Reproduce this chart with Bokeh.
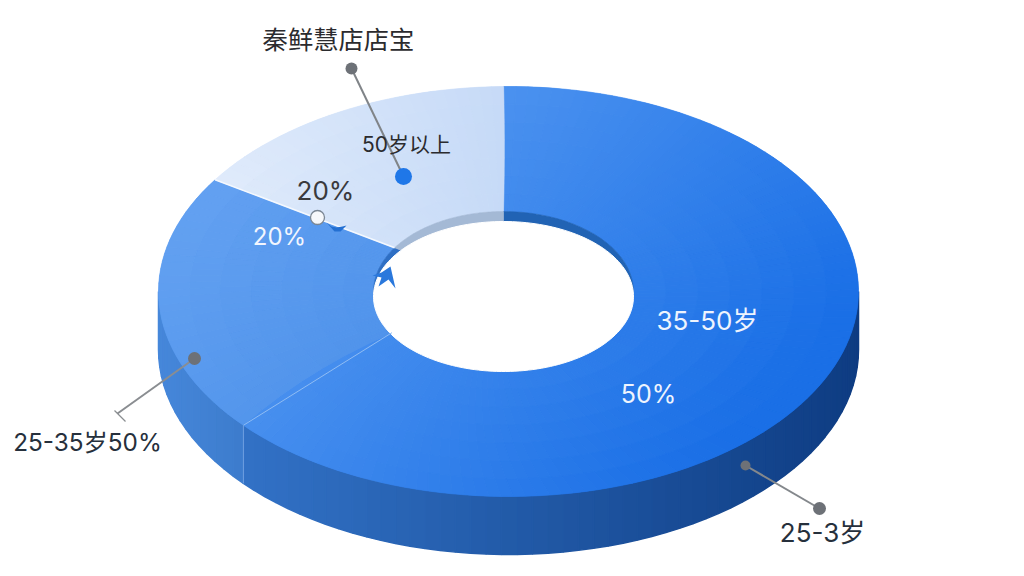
import numpy as np
from bokeh.plotting import figure
from bokeh.embed import file_html
from bokeh.resources import INLINE
from bokeh.core.properties import value

# --- data
slice_names = ["35-50岁", "25-35岁", "50岁以上"]
slice_shares = [63.9, 20.5, 15.6]          # drawn share along the outer rim (%)
inner_shares = [66.4, 17.8, 15.8]          # drawn share along the inner rim (%)
top_from = ["#4a91ef", "#66a3f2", "#e0ebfb"]
top_to = ["#1a6fe6", "#4a8fe9", "#c6daf7"]
side_from = ["#3272c6", "#4687da", "#4687da"]
side_to = ["#0e3c82", "#3d7ccd", "#3d7ccd"]
wall_cols = ["#2163b4", "#2e6fc4", "#a4b9d5"]

# name, x, y, size, colour
label_names = ["秦鲜慧店店宝", "50岁以上", "20%", "20%", "35-50岁", "50%", "25-35岁50%", "25-3岁"]
label_x = [338, 406, 325, 279, 707, 648, 87, 822]
label_y = [39, 144, 190, 236, 320, 393, 441, 532]
label_size = [25.3, 21, 26, 24, 26, 25, 24.3, 26]
label_col = ["#2b2b2e", "#2b2b2e", "#3a3a3d", "#f2f6fe", "#eef4fe", "#eef4fe", "#26303c", "#26303c"]

# --- layout of the ring, in page pixels
OCX, CY, RX, RY = 508, 291, 350, 205
ICX, IRX, IRY = 503, 130, 80
DEPTH = 58
HOLE_CY, HOLE_RY = 296, 75
START = np.deg2rad(-0.8)
FONT = value("Inter, 'Noto Sans CJK SC'")


def hexrgb(c):
    return np.array([int(c[i:i + 2], 16) for i in (1, 3, 5)], float)


def lerp(a, b, t):
    t = float(np.clip(t, 0, 1))
    r = hexrgb(a) * (1 - t) + hexrgb(b) * t
    return "#%02x%02x%02x" % tuple(int(round(v)) for v in r)


def pt(a, rx, ry, cy=CY, cx=OCX):
    return cx + rx * np.sin(a), cy - ry * np.cos(a)


p = figure(width=1024, height=576, x_range=(0, 1024), y_range=(576, 0),
           output_backend="svg", toolbar_location=None, min_border=0,
           outline_line_color=None, background_fill_color="white")
p.axis.visible = False
p.grid.visible = False

edges = START + np.deg2rad(np.concatenate([[0], np.cumsum(slice_shares) * 3.6]))
inner_edges = np.deg2rad(np.concatenate([[0], np.cumsum(inner_shares) * 3.6]))

# side walls (front half only)
xs, ys, cs = [], [], []
for i in range(3):
    a0, a1 = max(edges[i], np.pi / 2), min(edges[i + 1], 3 * np.pi / 2)
    if a1 <= a0:
        continue
    steps = max(2, int(np.degrees(a1 - a0) / 2.5))
    grid = np.linspace(a0, a1, steps + 1)
    for s in range(steps):
        q = np.array([grid[s], grid[s + 1]])
        x1, y1 = pt(q, RX, RY)
        x2, y2 = pt(q[::-1], RX, RY, CY + DEPTH)
        xs.append(list(x1) + list(x2))
        ys.append(list(y1) + list(y2))
        xm = x1.mean()
        if i == 0:
            t = (xm - 241) / (858 - 241)
        else:
            t = (xm - 158) / (241 - 158)
        cs.append(lerp(side_from[i], side_to[i], t))
p.patches(xs, ys, fill_color=cs, line_color=cs, line_width=1.5)

# top surface
xs, ys, cs = [], [], []
radial = np.linspace(0, 1, 8)
for i in range(3):
    steps = max(2, int(np.degrees(edges[i + 1] - edges[i]) / 2))
    f = np.linspace(0, 1, steps + 1)
    for s in range(steps):
        for r in range(len(radial) - 1):
            r0, r1 = radial[r], radial[r + 1]
            ang0 = inner_edges[i] + (edges[i] - inner_edges[i]) * np.array([r0, r1])
            ang1 = inner_edges[i + 1] + (edges[i + 1] - inner_edges[i + 1]) * np.array([r0, r1])
            rx0, ry0 = IRX + (RX - IRX) * r0, IRY + (RY - IRY) * r0
            rx1, ry1 = IRX + (RX - IRX) * r1, IRY + (RY - IRY) * r1
            cx0, cx1 = ICX + (OCX - ICX) * r0, ICX + (OCX - ICX) * r1
            q0 = ang0[0] + (ang1[0] - ang0[0]) * np.array([f[s], f[s + 1]])
            q1 = ang0[1] + (ang1[1] - ang0[1]) * np.array([f[s], f[s + 1]])
            x1, y1 = pt(q0, rx0, ry0, cx=cx0)
            x2, y2 = pt(q1[::-1], rx1, ry1, cx=cx1)
            px = list(x1) + list(x2)
            py = list(y1) + list(y2)
            xs.append(px)
            ys.append(py)
            xm, ym = np.mean(px), np.mean(py)
            if i == 0:
                t = 0.0019 * (xm - 510) + 0.0017 * (ym - 95)
            elif i == 1:
                t = 0.5 * (xm - 160) / 230 + 0.5 * (ym - 180) / 245
            else:
                t = (xm - 216) / 287
            cs.append(lerp(top_from[i], top_to[i], t))
p.patches(xs, ys, fill_color=cs, line_color=None)
# same cells once more with a fine stroke to close the seams
p.patches(xs, ys, fill_color=cs, line_color=cs, line_width=0.6)

# inner wall seen through the hole
for i in range(3):
    q = np.linspace(inner_edges[i], inner_edges[i + 1], 60)
    x, y = pt(q, IRX, IRY, cx=ICX)
    p.patch(list(x) + [ICX], list(y) + [CY], fill_color=wall_cols[i], line_color=wall_cols[i], line_width=0.5)
q = np.linspace(0, 2 * np.pi, 180)
x, y = pt(q, IRX, HOLE_RY, HOLE_CY, cx=ICX)
p.patch(x, y, fill_color="white", line_color="white")

# separators between the slices
for i, (col, w) in enumerate([("#8fbcf3", 1.0), ("#f4f8fe", 1.6)]):
    x0, y0 = pt(inner_edges[i + 1], IRX, IRY, cx=ICX)
    x1, y1 = pt(edges[i + 1], RX, RY)
    p.line([x0, x1], [y0, y1], line_color=col, line_width=w)
x1, y1 = pt(edges[1], RX, RY)
p.line([x1, x1], [y1, y1 + DEPTH], line_color="#6f9fe0", line_width=1)

# stray marks of the original
p.patch([390, 395, 388, 378, 381, 372, 381], [266, 288, 279, 286, 277, 275, 272],
        fill_color="#2a78dc", line_color=None)
p.patch([326, 331, 336, 342, 346, 340, 334], [222, 226, 227, 226, 225, 231, 231],
        fill_color="#2470d2", line_color=None)

# leader lines and dots
p.line([351, 403], [68, 176], line_color="#808488", line_width=2)
p.line([194, 117], [358, 413], line_color="#8a8d91", line_width=2)
p.line([114, 125], [410, 421], line_color="#8a8d91", line_width=1.2)
p.line([745, 819], [465, 508], line_color="#84888c", line_width=2)
p.scatter([351, 194, 745, 819], [68, 358, 465, 508], size=[12, 13, 10, 13],
          fill_color="#6d7177", line_color=None)
p.scatter([403], [176], size=17, fill_color="#1f77e8", line_color=None)
p.scatter([317], [217], size=14, fill_color="#f6f8fb", line_color="#7b8794", line_width=1.3)

# texts
for name, x, y, size, col in zip(label_names, label_x, label_y, label_size, label_col):
    p.text([x], [y], text=[name], text_align="center", text_baseline="middle",
           text_color=col, text_font=FONT, text_font_size=f"{size}px")

open("out.html", "w").write(file_html(p, INLINE))
